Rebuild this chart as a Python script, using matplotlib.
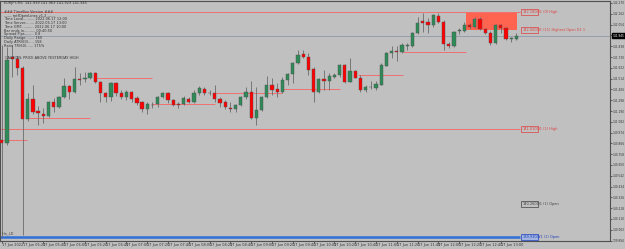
import matplotlib
matplotlib.use('Agg')
import matplotlib.pyplot as plt
from matplotlib.patches import Rectangle
from matplotlib.transforms import blended_transform_factory

BG = '#c0c0c0'
BULL = '#2e8b57'
BEAR = '#ff0000'
WICK = '#6a6a6a'
LEVEL = '#f07070'
NARROW = ['Liberation Sans Narrow', 'DejaVu Sans Condensed', 'DejaVu Sans']

# EURJPY M5 candles
opens = [140.90, 140.87, 141.73, 141.71, 141.62, 141.11, 141.31, 141.19, 141.16, 141.14,
         141.28, 141.23, 141.33, 141.44, 141.38, 141.51, 141.51, 141.52, 141.57, 141.48,
         141.37, 141.33, 141.47, 141.37, 141.33, 141.38, 141.32, 141.28, 141.21, 141.25,
         141.26, 141.33, 141.37, 141.30, 141.26, 141.26, 141.31, 141.28, 141.37, 141.41,
         141.37, 141.37, 141.31, 141.28, 141.22, 141.21, 141.25, 141.33, 141.38, 141.12,
         141.20, 141.33, 141.45, 141.41, 141.38, 141.50, 141.56, 141.67, 141.76, 141.73,
         141.61, 141.38, 141.51, 141.49, 141.53, 141.55, 141.65, 141.48, 141.59, 141.52,
         141.40, 141.43, 141.42, 141.45, 141.64, 141.77, 141.79, 141.78, 141.84, 141.84,
         141.97, 142.09, 142.08, 142.05, 142.14, 142.08, 141.86, 141.84, 141.99, 141.99,
         142.05, 142.03, 142.11, 142.01, 141.97, 141.87, 142.05, 142.02, 141.91, 141.91]
highs = [141.85, 141.83, 141.85, 141.74, 141.64, 141.37, 141.45, 141.24, 141.22, 141.29,
         141.32, 141.34, 141.52, 141.45, 141.63, 141.57, 141.58, 141.58, 141.58, 141.49,
         141.38, 141.48, 141.48, 141.40, 141.40, 141.39, 141.34, 141.29, 141.28, 141.28,
         141.34, 141.38, 141.38, 141.31, 141.28, 141.34, 141.33, 141.40, 141.44, 141.43,
         141.40, 141.45, 141.33, 141.30, 141.28, 141.26, 141.34, 141.43, 141.49, 141.43,
         141.34, 141.54, 141.52, 141.47, 141.53, 141.57, 141.68, 141.80, 141.80, 141.77,
         141.63, 141.52, 141.60, 141.57, 141.57, 141.66, 141.66, 141.72, 141.60, 141.55,
         141.45, 141.49, 141.49, 141.67, 141.78, 141.84, 141.84, 141.87, 141.87, 141.98,
         142.13, 142.17, 142.12, 142.16, 142.17, 142.10, 141.88, 141.99, 142.02, 142.08,
         142.07, 142.13, 142.13, 142.02, 141.99, 142.06, 142.06, 142.03, 141.93, 141.97]
lows = [139.93, 140.85, 141.53, 141.55, 139.95, 141.09, 141.16, 141.05, 141.07, 141.13,
        141.18, 141.22, 141.32, 141.31, 141.37, 141.45, 141.48, 141.51, 141.47, 141.28,
        141.28, 141.29, 141.34, 141.31, 141.30, 141.28, 141.25, 141.18, 141.16, 141.22,
        141.23, 141.32, 141.27, 141.24, 141.22, 141.25, 141.27, 141.27, 141.35, 141.35,
        141.35, 141.28, 141.23, 141.21, 141.18, 141.18, 141.24, 141.31, 141.11, 141.05,
        141.19, 141.32, 141.35, 141.33, 141.37, 141.45, 141.47, 141.66, 141.72, 141.55,
        141.28, 141.37, 141.40, 141.40, 141.52, 141.53, 141.47, 141.48, 141.52, 141.38,
        141.38, 141.41, 141.40, 141.45, 141.64, 141.72, 141.69, 141.77, 141.80, 141.83,
        141.96, 141.98, 141.97, 142.03, 142.07, 141.80, 141.82, 141.83, 141.96, 141.98,
        142.01, 142.02, 142.00, 141.96, 141.85, 141.86, 141.97, 141.90, 141.88, 141.90]
closes = [140.87, 141.70, 141.71, 141.62, 141.11, 141.31, 141.18, 141.17, 141.14, 141.28,
          141.23, 141.33, 141.44, 141.38, 141.51, 141.505, 141.515, 141.57, 141.48, 141.37,
          141.33, 141.47, 141.37, 141.33, 141.38, 141.31, 141.27, 141.21, 141.26, 141.245,
          141.33, 141.37, 141.30, 141.25, 141.255, 141.32, 141.28, 141.37, 141.42, 141.37,
          141.365, 141.31, 141.27, 141.23, 141.21, 141.25, 141.33, 141.38, 141.12, 141.20,
          141.33, 141.45, 141.40, 141.38, 141.50, 141.56, 141.67, 141.75, 141.73, 141.60,
          141.38, 141.51, 141.49, 141.54, 141.55, 141.65, 141.48, 141.59, 141.52, 141.40,
          141.43, 141.425, 141.46, 141.65, 141.77, 141.79, 141.78, 141.85, 141.845, 141.97,
          142.07, 142.07, 142.05, 142.15, 142.08, 141.86, 141.84, 141.98, 141.995, 142.05,
          142.03, 142.11, 142.01, 141.97, 141.87, 142.05, 142.02, 141.91, 141.915, 141.945]

# stepped hourly high segments: (start bar, end bar, price)
seg_start = [-0.3, 5.1, 18.3, 28.9, 41.0, 53.9, 68.5, 77.2]
seg_end = [4.9, 17.0, 28.9, 41.0, 53.9, 65.1, 77.2, 89.3]
seg_price = [140.90, 141.12, 141.52, 141.26, 141.37, 141.41, 141.55, 141.78]

d1_high = 142.18
d1_prev_high = 141.01
d1_open = 140.26
w1_open = 139.93
box_top = 142.18
box_bottom = 142.00
box_from = 89.3
box_to = 99.1

price_ticks = [142.270, 142.162, 142.054, 141.946, 141.838, 141.730, 141.622, 141.514,
               141.406, 141.298, 141.190, 141.082, 140.974, 140.866, 140.758, 140.650,
               140.542, 140.434, 140.326, 140.218, 140.110, 140.002, 139.894]
time_labels = ['17 Jun 2022', '17 Jun 05:20', '17 Jun 05:40', '17 Jun 06:00', '17 Jun 06:20',
               '17 Jun 06:40', '17 Jun 07:00', '17 Jun 07:20', '17 Jun 07:40', '17 Jun 08:00',
               '17 Jun 08:20', '17 Jun 08:40', '17 Jun 09:00', '17 Jun 09:20', '17 Jun 09:40',
               '17 Jun 10:00', '17 Jun 10:20', '17 Jun 10:40', '17 Jun 11:00', '17 Jun 11:20',
               '17 Jun 11:40', '17 Jun 12:00', '17 Jun 12:20', '17 Jun 12:40', '17 Jun 13:00']
info_lines = ['EURJPY,M5  141.939 141.963 141.929 141.945',
              '### TimeBox Version ###',
              '------ mtfOpenLines v1.2 ------',
              'Time Local.......... 2022.06.17 12:00',
              'Time Server........ 2022.06.17 13:00',
              'Time GMT........... 2022.06.17 10:00',
              'Bar ends in.......... 00:40:50',
              'Spread Pips........ 0.8',
              'Daily Range........ 160',
              'Daily ATR(60)..... 158',
              'Ratio TR(60)...... 175%']
info_y = [2.7, 12.3, 15.9, 19.5, 23.2, 26.9, 30.8, 34.5, 38.4, 42.3, 46.3]

W, H = 625, 249
FS = 2.5
YFS = 2.1
fig = plt.figure(figsize=(W / 100, H / 100), dpi=100, facecolor=BG)
ax = fig.add_axes([0, 8 / H, 610 / W, 240 / H])
ax.set_facecolor(BG)
ax.set_xlim(-0.33, 117.0)
ax.set_ylim(139.89, 142.29)

# target box behind candles
ax.add_patch(Rectangle((box_from, box_bottom), box_to - box_from, box_top - box_bottom,
                       facecolor='#ff6450', edgecolor='none', zorder=1))

# level lines
ax.axhline(closes[-1], color='#93a0ad', lw=0.7, zorder=1)
ax.hlines([d1_high, d1_prev_high], -0.33, 99.7, color=LEVEL, lw=0.7, zorder=1)
ax.hlines(w1_open, -0.33, 99.7, color='#2f6fd6', lw=1.8, zorder=1)
ax.hlines(seg_price, seg_start, seg_end, color=LEVEL, lw=0.7, zorder=1)

# candles
x = list(range(len(opens)))
ax.vlines(x, lows, highs, color=WICK, lw=0.6, zorder=2)
for i in x:
    o, c = opens[i], closes[i]
    col = BULL if c >= o else BEAR
    h = max(abs(c - o), 0.006)
    ax.bar(i, h, bottom=min(o, c), width=0.62, color=col, edgecolor='#505050',
           linewidth=0.3, zorder=3)

# right-hand level tags
def tag(price, value, name, col, face='none'):
    ax.text(100.1, price, value, fontsize=FS, color=col, va='center', ha='left', zorder=4,
            bbox=dict(boxstyle='square,pad=0.25', facecolor=face, edgecolor=col, lw=0.5))
    ax.text(103.0, price, name, fontsize=FS, color=col, va='center', ha='left', zorder=4)

tag(d1_high, '142.180', 'D1 (0) High', '#e04040')
tag(box_bottom, '142.000', 'D1 (11) Highest Open D1 1', '#e04040')
tag(d1_prev_high, '141.010', 'D1 (1) High', '#e04040')
tag(d1_open, '140.260', 'D1 (1) Open', '#404040')
tag(w1_open, '139.930', 'W1 (1) Open', '#1f3fbf', face='#9fb4e0')

# axes styling
for s in ax.spines.values():
    s.set_color('#505050')
    s.set_linewidth(0.8)
ax.yaxis.tick_right()
ax.set_yticks(price_ticks)
ax.set_yticklabels(['%.3f' % p for p in price_ticks], family=NARROW, fontsize=YFS)
ax.set_xticks(range(0, 4 * len(time_labels), 4))
ax.set_xticklabels(time_labels, ha='left', fontsize=FS)
ax.tick_params(axis='both', colors='#303030', length=1.2, width=0.5, pad=0.5)

trans = blended_transform_factory(ax.transAxes, ax.transData)
ax.text(1.004, closes[-1], '%.3f' % closes[-1], transform=trans, fontsize=YFS, color='white',
        family=NARROW, va='center', ha='left', zorder=5, clip_on=False,
        bbox=dict(boxstyle='square,pad=0.12', facecolor='black', edgecolor='black'))

# info panel and comments
for line, yy in zip(info_lines, info_y):
    fig.text(4 / W, 1 - yy / H, line, fontsize=FS, color='#303030', va='center', ha='left')
fig.text(5 / W, 1 - 58 / H, 'CAUTION: PRICE ABOVE YESTERDAY HIGH', fontsize=FS,
         color='#303030', va='center', ha='left')
fig.text(2 / W, 1 - 233 / H, 'Hlo_LD', fontsize=FS, color='#404040', va='center', ha='left')

fig.savefig('out.png', dpi=100, facecolor=BG)
